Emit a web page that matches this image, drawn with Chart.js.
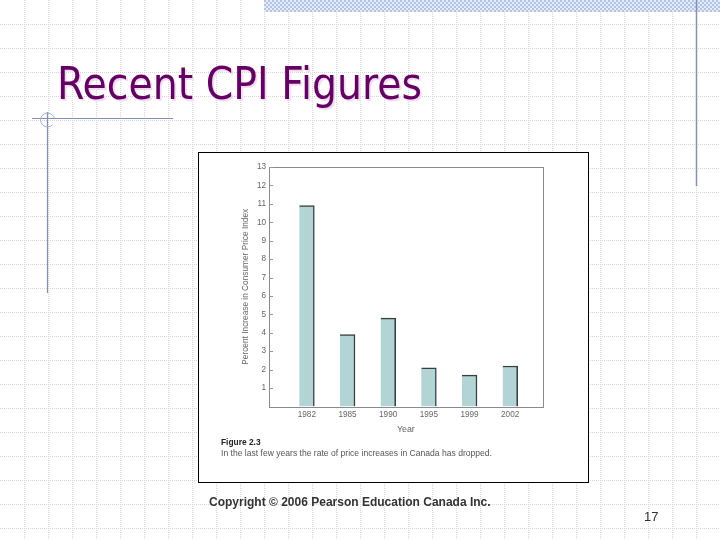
<!DOCTYPE html>
<html>
<head>
<meta charset="utf-8">
<script src="https://cdn.jsdelivr.net/npm/chart.js@4/dist/chart.umd.min.js"></script>
<style>
  html, body { margin: 0; padding: 0; }
  body { width: 720px; height: 540px; position: relative; overflow: hidden; background: #fff; }
  #bg { position: absolute; left: 0; top: 0; }
  .txt { position: absolute; white-space: nowrap; }
  #title { left: 57px; top: 56px; font-family: "DejaVu Sans", sans-serif; font-size: 44px; line-height: 56px; color: #660066; transform-origin: 0 0; text-shadow: 2px 2px 1px #ecdcec; }
  #box { position: absolute; left: 198px; top: 152px; width: 391px; height: 331px; box-sizing: border-box; border: 1px solid #000; background: #fff; }
  #wrap { position: absolute; left: 0; top: 0; width: 389px; height: 329px; }
  #cap1 { left: 221px; top: 437px; font-family: "Liberation Sans", Arial, sans-serif; font-weight: bold; font-size: 8.4px; line-height: 11px; color: #222; }
  #cap2 { left: 221px; top: 448px; font-family: "Liberation Sans", Arial, sans-serif; font-size: 8.6px; line-height: 11px; color: #555; transform-origin: 0 0; }
  #copy { left: 209px; top: 494px; font-family: "Liberation Sans", Arial, sans-serif; font-weight: bold; font-size: 12px; line-height: 16px; color: #333; }
  #page { left: 644px; top: 508px; font-family: "Liberation Sans", Arial, sans-serif; font-size: 13px; line-height: 18px; color: #333; }
</style>
</head>
<body>
<canvas id="bg" width="720" height="540"></canvas>
<div class="txt" id="title">Recent CPI Figures</div>
<div id="box"><div id="wrap"><canvas id="chart"></canvas></div></div>
<div class="txt" id="cap1">Figure 2.3</div>
<div class="txt" id="cap2">In the last few years the rate of price increases in Canada has dropped.</div>
<div class="txt" id="copy">Copyright © 2006 Pearson Education Canada Inc.</div>
<div class="txt" id="page">17</div>
<script>
// ---- data ----
const years = ["1982", "1985", "1990", "1995", "1999", "2002"];
const cpiIncrease = [10.9, 3.9, 4.8, 2.1, 1.7, 2.2];
const yTickValues = [1, 2, 3, 4, 5, 6, 7, 8, 9, 10, 11, 12, 13];
const yAxisTitle = "Percent Increase in Consumer Price Index";
const xAxisTitle = "Year";

// ---- slide background (decoration) ----
(function drawBg() {
  const c = document.getElementById('bg');
  const g = c.getContext('2d');
  g.fillStyle = '#fff';
  g.fillRect(0, 0, 720, 540);
  g.strokeStyle = '#d6d6d6';
  g.lineWidth = 1;
  g.setLineDash([1, 1]);
  for (let x = 24; x < 720; x += 24) {
    g.beginPath(); g.moveTo(x + 0.5, 0); g.lineTo(x + 0.5, 540); g.stroke();
  }
  for (let y = 24; y < 540; y += 24) {
    g.beginPath(); g.moveTo(0, y + 0.5); g.lineTo(720, y + 0.5); g.stroke();
  }
  g.setLineDash([]);
  // hatched band top right
  for (let y = 0; y < 12; y += 2) {
    for (let x = 264; x < 720; x += 2) {
      g.fillStyle = ((x / 2 + y / 2) % 2 === 0) ? '#b4c4e6' : '#e4eaf6';
      g.fillRect(x, y, 2, 2);
    }
  }
  // right vertical line
  g.strokeStyle = '#8590b6';
  g.lineWidth = 1.5;
  g.beginPath(); g.moveTo(696.5, 0); g.lineTo(696.5, 186); g.stroke();
  // left decoration
  g.strokeStyle = '#8090b4';
  g.lineWidth = 1.2;
  g.beginPath(); g.moveTo(32, 118.5); g.lineTo(173, 118.5); g.stroke();
  g.beginPath(); g.moveTo(47.5, 112); g.lineTo(47.5, 293); g.stroke();
  g.strokeStyle = '#a4aeca';
  g.lineWidth = 1;
  g.beginPath(); g.arc(47.5, 120, 7, 0.25 * Math.PI, 1.9 * Math.PI); g.stroke();
})();

// fit text widths
(function fitText() {
  const t = document.getElementById('title');
  t.style.transform = 'scaleX(' + (365 / t.getBoundingClientRect().width) + ')';
  const c2 = document.getElementById('cap2');
  c2.style.transform = 'scaleX(' + (271 / c2.getBoundingClientRect().width) + ')';
})();

// ---- chart ----
const tickFont = { family: "Liberation Sans, Arial, sans-serif", size: 8.2 };
const inwardTicks = {
  id: 'inwardTicks',
  afterDraw(chart) {
    const { ctx, chartArea: a, scales: { y } } = chart;
    ctx.save();
    ctx.strokeStyle = '#8a8a8a';
    ctx.lineWidth = 1;
    ctx.strokeRect(Math.round(a.left) + 0.5, Math.round(a.top) + 0.5,
      Math.round(a.right - a.left), Math.round(a.bottom - a.top));
    ctx.strokeStyle = '#999';
    yTickValues.forEach(v => {
      const py = Math.round(y.getPixelForValue(v)) + 0.5;
      ctx.beginPath();
      ctx.moveTo(a.left, py);
      ctx.lineTo(a.left + 4, py);
      ctx.stroke();
    });
    ctx.restore();
  }
};

new Chart(document.getElementById('chart'), {
  type: 'bar',
  data: {
    datasets: [{
      data: cpiIncrease.map((v, i) => ({ x: i, y: v })),
      backgroundColor: '#b3d4d4',
      borderColor: '#34403f',
      borderWidth: { top: 1.5, right: 1.5, left: 0, bottom: 0 },
      borderSkipped: false,
      barThickness: 15
    }]
  },
  options: {
    responsive: true,
    maintainAspectRatio: false,
    animation: false,
    devicePixelRatio: 1,
    layout: { padding: { left: 42, right: 45.3, top: 14, bottom: 47.5 } },
    plugins: { legend: { display: false }, tooltip: { enabled: false } },
    scales: {
      x: {
        type: 'linear',
        min: -0.93,
        max: 5.8,
        offset: false,
        afterBuildTicks(scale) { scale.ticks = years.map((_, i) => ({ value: i })); },
        afterFit(scale) { scale.height = 28; },
        grid: { display: false, drawTicks: false },
        border: { display: false },
        ticks: {
          autoSkip: false, maxRotation: 0, padding: 3,
          color: '#666', font: tickFont,
          callback: (v) => years[v]
        },
        title: { display: true, text: xAxisTitle, color: '#666', padding: 0,
          font: { family: "Liberation Sans, Arial, sans-serif", size: 8.8 } }
      },
      y: {
        min: 0,
        max: 13,
        afterBuildTicks(scale) { scale.ticks = yTickValues.map(v => ({ value: v })); },
        afterFit(scale) { scale.width = 28; },
        grid: { display: false, drawTicks: false },
        border: { display: false },
        ticks: { padding: 3, color: '#666', font: tickFont },
        title: { display: true, text: yAxisTitle, color: '#666', padding: 0,
          font: { family: "Liberation Sans, Arial, sans-serif", size: 8.3 } }
      }
    }
  },
  plugins: [inwardTicks]
});
</script>
</body>
</html>
